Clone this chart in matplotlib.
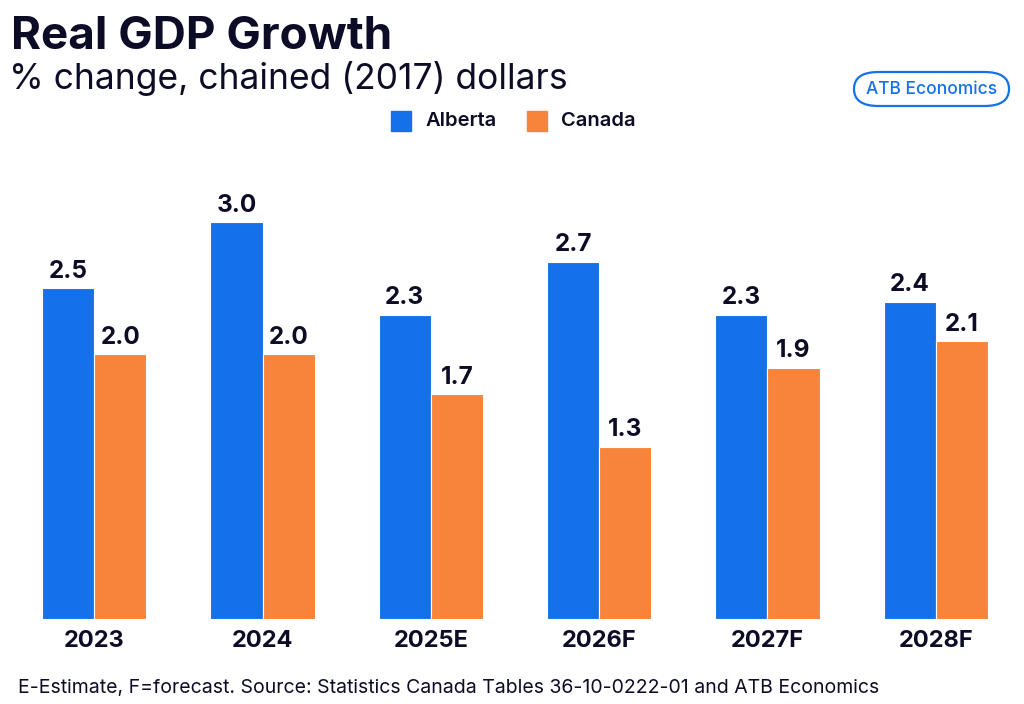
import numpy as np
import matplotlib.pyplot as plt
from matplotlib.patches import FancyBboxPatch, Rectangle

plt.rcParams['font.family'] = ['Inter', 'DejaVu Sans']

# data
years = ["2023", "2024", "2025E", "2026F", "2027F", "2028F"]
alberta = [2.5, 3.0, 2.3, 2.7, 2.3, 2.4]
canada = [2.0, 2.0, 1.7, 1.3, 1.9, 2.1]

blue = "#1471ea"
orange = "#f7843a"
ink = "#0c0c26"

W, H = 1024, 704
fig = plt.figure(figsize=(W / 100, H / 100), dpi=100)

# axes placed in pixel terms: x from 10 to 1020, baseline at 619 px from top
ax = fig.add_axes([10 / W, (H - 619) / H, 1010 / W, 463 / H])
x = np.arange(len(years))
bw = 0.31
b1 = ax.bar(x - bw / 2, alberta, bw, color=blue, edgecolor="white", linewidth=0.8)
b2 = ax.bar(x + bw / 2, canada, bw, color=orange, edgecolor="white", linewidth=0.8)

for bars, vals in ((b1, alberta), (b2, canada)):
    for r, v in zip(bars, vals):
        ax.annotate(f"{v:.1f}", (r.get_x() + r.get_width() / 2, v),
                    xytext=(0, 4), textcoords="offset points",
                    ha="center", va="bottom", fontsize=17.5,
                    fontweight="bold", color=ink)

ax.set_xlim(-0.5, 5.5)
ax.set_ylim(0, 3.5)
ax.set_xticks(x)
ax.set_xticklabels(years, fontsize=17, fontweight="bold", color=ink)
ax.tick_params(axis="x", length=0, pad=8)
ax.set_yticks([])
for s in ax.spines.values():
    s.set_visible(False)

# titles
fig.text(11 / W, 1 - 37 / H, "Real GDP Growth", fontsize=33, fontweight="bold",
         color=ink, ha="left", va="center")
fig.text(9 / W, 1 - 78 / H, "% change, chained (2017) dollars", fontsize=25.5,
         color=ink, ha="left", va="center")

# legend
for lx, lab, col in ((391, "Alberta", blue), (527, "Canada", orange)):
    fig.patches.append(Rectangle((lx / W, 1 - 131 / H), 20 / W, 20 / H,
                                 transform=fig.transFigure, color=col))
    fig.text((lx + 34) / W, 1 - 121 / H, lab, fontsize=14.5, fontweight="semibold",
             color=ink, ha="left", va="center")

# ATB badge
fig.patches.append(FancyBboxPatch((854 / W, 1 - 106 / H), 155 / W, 34 / H,
                                  boxstyle="round,pad=0,rounding_size=0.024",
                                  transform=fig.transFigure, facecolor="white",
                                  edgecolor=blue, linewidth=1.6))
fig.text(932 / W, 1 - 89 / H, "ATB Economics", fontsize=12.5, fontweight="medium",
         color=blue, ha="center", va="center")

fig.text(18 / W, 1 - 688 / H,
         "E-Estimate, F=forecast. Source: Statistics Canada Tables 36-10-0222-01 and ATB Economics",
         fontsize=14, color=ink, ha="left", va="center")

fig.savefig("out.png", dpi=100, facecolor="white")
